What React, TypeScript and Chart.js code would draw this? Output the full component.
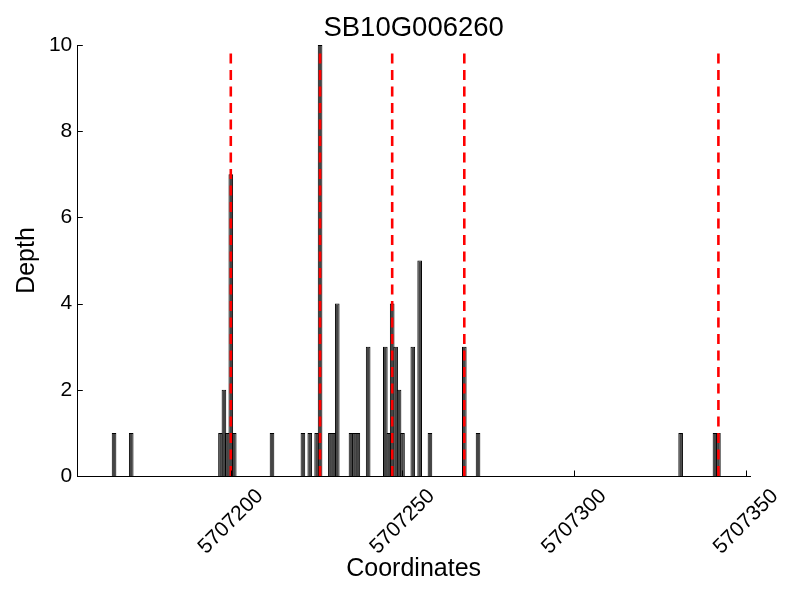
import React, { useEffect, useRef } from "react";
import { Chart, registerables } from "chart.js";

Chart.register(...registerables);

const chartTitle = "SB10G006260";
const xAxisTitle = "Coordinates";
const yAxisTitle = "Depth";

const coordinates = [
  5707166, 5707171, 5707197, 5707198, 5707199, 5707200, 5707201, 5707212,
  5707221, 5707223, 5707225, 5707226, 5707229, 5707230, 5707231, 5707235,
  5707236, 5707237, 5707240, 5707245, 5707246, 5707247, 5707248, 5707249,
  5707250, 5707253, 5707255, 5707258, 5707268, 5707272, 5707331, 5707341,
  5707342,
];
const depths = [
  1, 1, 1, 2, 1, 7, 1, 1,
  1, 1, 1, 10, 1, 1, 4, 1,
  1, 1, 3, 3, 1, 4, 3, 2,
  1, 3, 5, 1, 3, 1, 1, 1,
  1,
];

const markerPositions = [5707200, 5707226, 5707247, 5707268, 5707342];
const markerTop = 9.85;

const xMin = 5707155.3;
const xMax = 5707351.2;
const xTickValues = [5707200, 5707250, 5707300, 5707350];
const yMin = 0;
const yMax = 10;
const yTickValues = [0, 2, 4, 6, 8, 10];

const FONT = "'Liberation Sans', Arial, Helvetica, sans-serif";

const inwardTicks = {
  id: "inwardTicks",
  afterDatasetsDraw(chart: any) {
    const { ctx, chartArea, scales } = chart;
    ctx.save();
    ctx.strokeStyle = "#000";
    ctx.lineWidth = 1;
    for (const t of scales.x.ticks) {
      const px = Math.round(scales.x.getPixelForValue(t.value)) + 0.5;
      ctx.beginPath();
      ctx.moveTo(px, chartArea.bottom);
      ctx.lineTo(px, chartArea.bottom - 5.5);
      ctx.stroke();
    }
    for (const t of scales.y.ticks) {
      const py = Math.round(scales.y.getPixelForValue(t.value)) + 0.5;
      ctx.beginPath();
      ctx.moveTo(chartArea.left, py);
      ctx.lineTo(chartArea.left + 5.5, py);
      ctx.stroke();
    }
    ctx.restore();
  },
};

export default function App() {
  const canvasRef = useRef<HTMLCanvasElement | null>(null);

  useEffect(() => {
    const canvas = canvasRef.current;
    if (!canvas) return;

    const markerSets = markerPositions.map((x) => ({
      type: "line" as const,
      data: [
        { x, y: 0 },
        { x, y: markerTop },
      ],
      borderColor: "#ff0000",
      borderWidth: 2.6,
      borderDash: [10, 6.5],
      pointRadius: 0,
      fill: false,
      order: 1,
    }));

    const chart = new Chart(canvas, {
      type: "bar",
      data: {
        datasets: [
          ...markerSets,
          {
            type: "bar" as const,
            data: coordinates.map((x, i) => ({ x, y: depths[i] })),
            backgroundColor: "#454545",
            borderColor: "#000000",
            borderWidth: 1,
            barPercentage: 1.35,
            categoryPercentage: 1,
            grouped: false,
            order: 2,
          },
        ] as any,
      },
      options: {
        responsive: false,
        animation: false,
        devicePixelRatio: 1,
        layout: { padding: { left: 0, right: 50, top: 0, bottom: 0 } },
        plugins: {
          legend: { display: false },
          tooltip: { enabled: false },
          title: {
            display: true,
            text: chartTitle,
            fullSize: false,
            color: "#000",
            font: { family: FONT, size: 27.5, weight: "normal", lineHeight: 1.2 },
            padding: { top: 11.5, bottom: 0.5 },
          },
        },
        scales: {
          x: {
            type: "linear",
            min: xMin,
            max: xMax,
            offset: false,
            grid: { display: false, drawTicks: false },
            border: { display: true, color: "#000", width: 1 },
            afterBuildTicks: (scale: any) => {
              scale.ticks = xTickValues.map((v) => ({ value: v }));
            },
            afterFit: (scale: any) => {
              scale.height = 124;
            },
            ticks: {
              color: "#000",
              font: { family: FONT, size: 21 },
              minRotation: 45,
              maxRotation: 45,
              autoSkip: false,
              labelOffset: 29,
              padding: 8,
              callback: (v: any) => String(v),
            },
            title: {
              display: true,
              text: xAxisTitle,
              color: "#000",
              font: { family: FONT, size: 25 },
              padding: { top: 0, bottom: 16 },
            },
          },
          y: {
            type: "linear",
            min: yMin,
            max: yMax,
            grid: { display: false, drawTicks: false },
            border: { display: true, color: "#000", width: 1 },
            afterBuildTicks: (scale: any) => {
              scale.ticks = yTickValues.map((v) => ({ value: v }));
            },
            afterFit: (scale: any) => {
              scale.width = 77.3;
            },
            ticks: {
              color: "#000",
              font: { family: FONT, size: 21 },
              padding: 5,
              callback: (v: any) => String(v),
            },
            title: {
              display: true,
              text: yAxisTitle,
              color: "#000",
              font: { family: FONT, size: 25 },
              padding: { top: 12, bottom: 0 },
            },
          },
        },
      } as any,
      plugins: [inwardTicks],
    });

    return () => chart.destroy();
  }, []);

  return (
    <div style={{ position: "absolute", left: 0, top: 0, width: 800, height: 600, background: "#fff" }}>
      <canvas ref={canvasRef} width={800} height={600} style={{ display: "block" }} />
    </div>
  );
}
